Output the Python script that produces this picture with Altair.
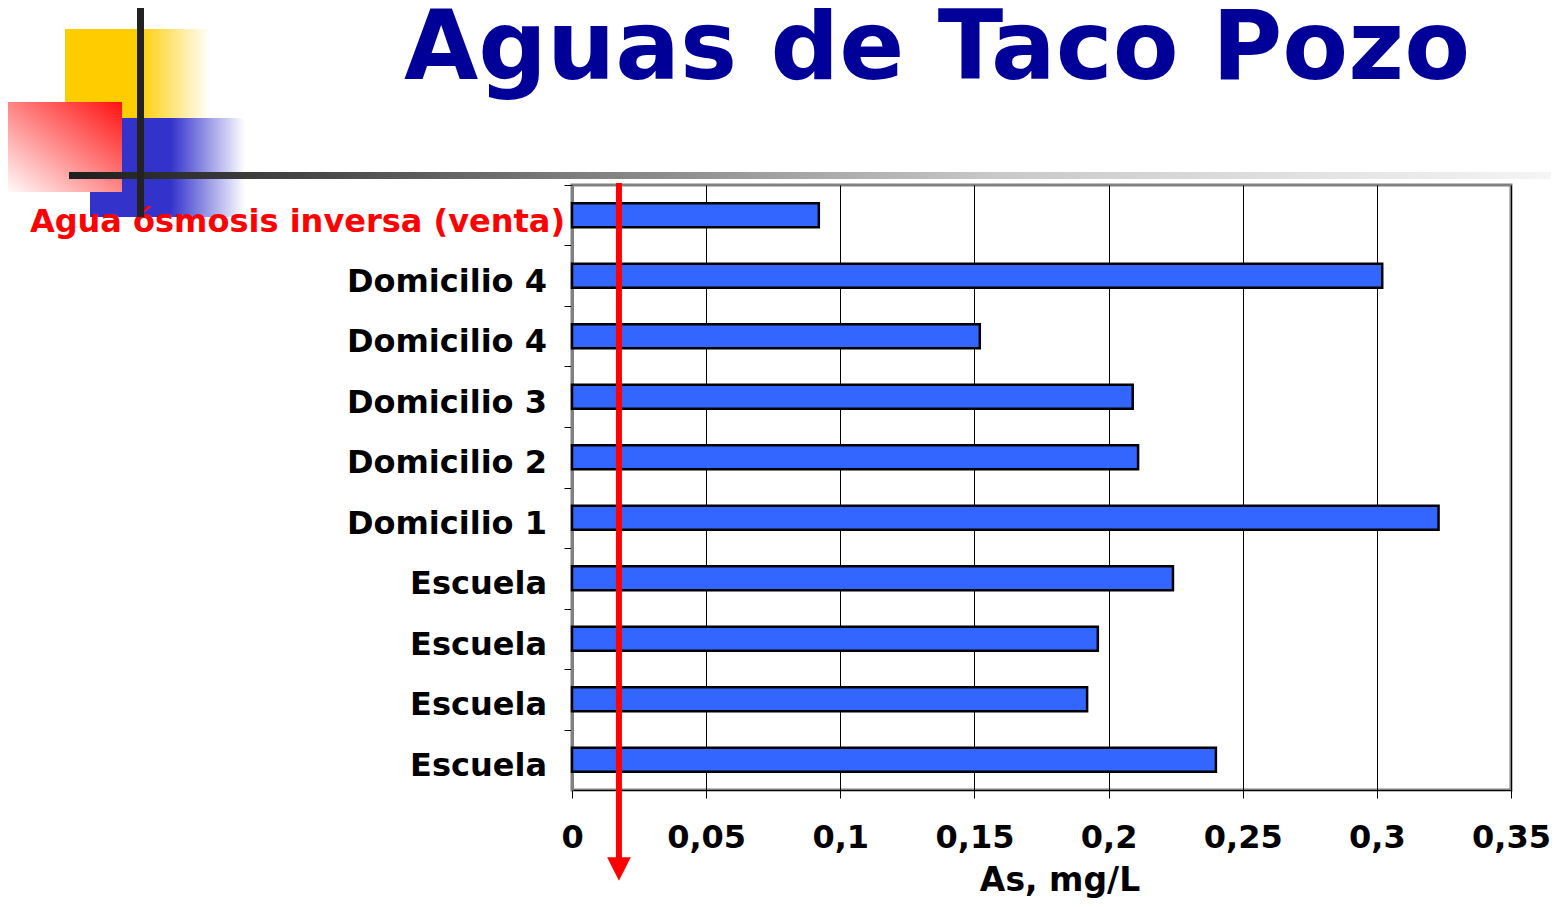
import json
import altair as alt
import pandas as pd

# ---- data ----
categories = ["Agua ósmosis inversa (venta)", "Domicilio 4", "Domicilio 4", "Domicilio 3",
              "Domicilio 2", "Domicilio 1", "Escuela", "Escuela", "Escuela", "Escuela"]
values = [0.092, 0.302, 0.152, 0.209, 0.211, 0.323, 0.224, 0.196, 0.192, 0.240]
x_ticks = [0, 0.05, 0.1, 0.15, 0.2, 0.25, 0.3, 0.35]
x_tick_labels = ["0", "0,05", "0,1", "0,15", "0,2", "0,25", "0,3", "0,35"]
limit_value = [0.0175]
title_text = "Aguas de Taco Pozo"
x_title = "As, mg/L"

df = pd.DataFrame({"id": list(range(len(categories))), "cat": categories, "value": values})
lim = pd.DataFrame({"v": limit_value})
one = alt.Data(values=[{"a": 1}])

FONT = "DejaVu Sans"
H = 605
STEP = H / 10.0

y_enc = alt.Y("id:O", title=None,
              scale=alt.Scale(paddingInner=0.6, paddingOuter=0.3),
              axis=alt.Axis(labels=False, domainColor="#808080", domainWidth=3,
                            tickColor="black", tickWidth=1, tickSize=8,
                            tickOffset=-STEP / 2, tickExtra=True, grid=False))
label_expr = json.dumps(x_tick_labels) + "[round(datum.value*20)]"
x_enc = alt.X("value:Q", title=None,
              scale=alt.Scale(domain=[0, 0.35], nice=False, zero=True),
              axis=alt.Axis(values=x_ticks, labelExpr=label_expr, grid=True,
                            gridColor="black", gridWidth=1, gridOpacity=1,
                            domainColor="black", domainWidth=1,
                            tickColor="black", tickSize=8, tickWidth=1,
                            labelFont=FONT, labelFontWeight="bold", labelFontSize=32,
                            labelColor="black", labelPadding=24, labelFlush=False))

bars = alt.Chart(df).mark_bar(fill="#3366FF", stroke="black", strokeWidth=2.5).encode(
    x=x_enc, y=y_enc)

labels_black = alt.Chart(df).transform_filter("datum.id > 0").mark_text(
    align="right", baseline="middle", dy=6, font=FONT, fontWeight="bold",
    fontSize=32, color="black").encode(
    x=alt.value(-25), y=alt.Y("id:O"), text="cat:N")

labels_red = alt.Chart(df).transform_filter("datum.id == 0").mark_text(
    align="right", baseline="middle", dy=7, font=FONT, fontWeight="bold",
    fontSize=32, color="#FF0000").encode(
    x=alt.value(-7), y=alt.Y("id:O"), text="cat:N")

red_line = alt.Chart(lim).mark_rule(color="#FF0000", strokeWidth=6).encode(
    x=alt.X("v:Q"), y=alt.value(-2), y2=alt.value(676))
arrow = alt.Chart(lim).mark_point(shape="M-1,-1L1,-1L0,1Z", size=560, filled=True,
                                  color="#FF0000", opacity=1).encode(
    x=alt.X("v:Q"), y=alt.value(684))

axis_title = alt.Chart(one).mark_text(
    text=x_title, align="center", baseline="alphabetic", font=FONT,
    fontWeight="bold", fontSize=33, color="black").encode(
    x=alt.value(488), y=alt.value(706))

title = alt.Chart(one).mark_text(
    text=title_text, align="center", baseline="alphabetic", font=FONT,
    fontWeight="bold", fontSize=96, color="#000099").encode(
    x=alt.value(365), y=alt.value(-106))

# ---- decoration (slide template) ----
def grad(stops, x1=0, y1=0, x2=1, y2=0):
    return alt.Gradient(gradient="linear",
                        stops=[alt.GradientStop(color=c, offset=o) for o, c in stops],
                        x1=x1, y1=y1, x2=x2, y2=y2)

yellow = alt.Chart(one).mark_rect(color=grad([(0, "#FFCC00"), (0.5, "#FFCC00"), (1, "#FFFFFF")])).encode(
    x=alt.value(-507), x2=alt.value(-362), y=alt.value(-156), y2=alt.value(-67))
blue = alt.Chart(one).mark_rect(color=grad([(0, "#3333CC"), (0.52, "#3333CC"), (1, "#FFFFFF")])).encode(
    x=alt.value(-482), x2=alt.value(-327), y=alt.value(-67), y2=alt.value(32))
red = alt.Chart(one).mark_rect(color=grad([(0, "#FF1111"), (1, "#FFFFFF")], x1=1, y1=0, x2=0, y2=1)).encode(
    x=alt.value(-569), x2=alt.value(-450), y=alt.value(-83), y2=alt.value(7))
hline = alt.Chart(one).mark_rect(color=grad([(0, "#1e1e1e"), (0.155, "#444444"), (0.32, "#777777"),
                                             (0.62, "#c8c8c8"), (1, "#f5f5f5")])).encode(
    x=alt.value(-503), x2=alt.value(989), y=alt.value(-13), y2=alt.value(-6))
vline = alt.Chart(one).mark_rect(color="#222222").encode(
    x=alt.value(-435), x2=alt.value(-428), y=alt.value(-179), y2=alt.value(32))

chart = alt.layer(
    yellow, blue, red, bars, labels_black, labels_red, hline, vline,
    red_line, arrow, axis_title, title
).properties(
    width=939, height=H,
    autosize=alt.AutoSizeParams(type="none"),
    padding={"left": 564, "top": 177, "right": 40, "bottom": 108},
).configure_view(stroke="#808080", strokeWidth=3)

chart.save("out.html", embed_options={"renderer": "svg", "actions": False})
